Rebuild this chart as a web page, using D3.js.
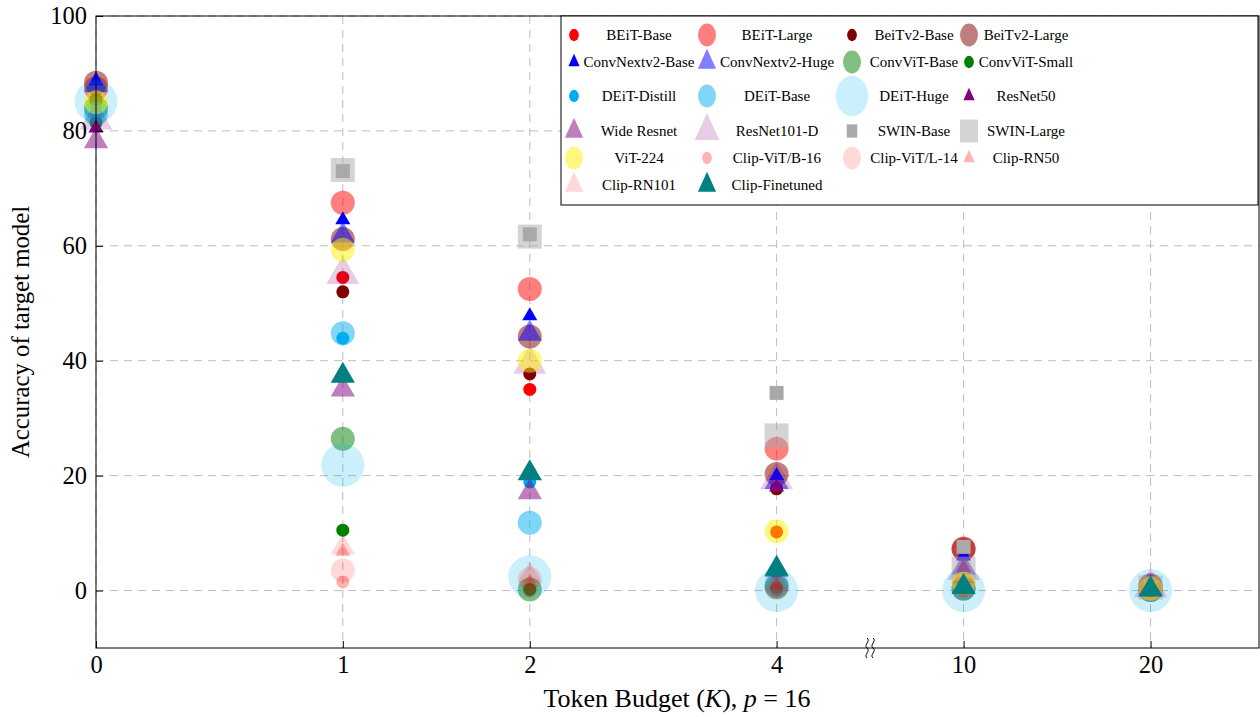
<!DOCTYPE html>
<html>
<head>
<meta charset="utf-8">
<script src="https://cdn.jsdelivr.net/npm/d3@7"></script>
<style>
  body { margin: 0; background: #fff; }
  text { font-family: "Liberation Serif", "Times New Roman", serif; fill: #000; }
</style>
</head>
<body>
<div id="container"></div>
<script>
// token budgets on the x axis and where each one sits along the (broken) axis
var budgets = [0, 1, 2, 4, 10, 20]
var budgetSlots = [0, 1.32, 2.32, 3.64, 4.64, 5.64]
var yTicks = [0, 20, 40, 60, 80, 100]

var modelNames = [
  'BEiT-Base', 'BEiT-Large', 'BeiTv2-Base', 'BeiTv2-Large',
  'ConvNextv2-Base', 'ConvNextv2-Huge', 'ConvViT-Base', 'ConvViT-Small',
  'DEiT-Distill', 'DEiT-Base', 'DEiT-Huge', 'ResNet50',
  'Wide Resnet', 'ResNet101-D', 'SWIN-Base', 'SWIN-Large',
  'ViT-224', 'Clip-ViT/B-16', 'Clip-ViT/L-14', 'Clip-RN50',
  'Clip-RN101', 'Clip-Finetuned'
]

// accuracy of target model at budgets 0, 1, 2, 4, 10, 20 (null = not plotted)
var accuracy = [
  [85.2, 54.5, 35.0, 10.2, 7.4, 0.5], // BEiT-Base
  [87.4, 67.5, 52.5, 24.7, 7.3, 0.6], // BEiT-Large
  [85.5, 52.0, 37.7, 17.7, 7.0, 0.8], // BeiTv2-Base
  [88.4, 61.2, 44.2, 20.3, 7.2, 0.9], // BeiTv2-Large
  [88.6, 64.5, 47.8, 20.0, 6.0, 0.6], // ConvNextv2-Base
  [88.0, 61.8, 44.7, 18.9, 4.0, 0.5], // ConvNextv2-Huge
  [84.0, 26.4, 0.2, 0.6, 0.3, 0.1], // ConvViT-Base
  [81.5, 10.5, 0.2, 0.5, 0.3, 0.1], // ConvViT-Small
  [83.4, 43.9, 18.9, 3.0, 0.8, 0.2], // DEiT-Distill
  [83.0, 44.8, 11.8, 1.0, 0.5, 0.1], // DEiT-Base
  [85.1, 21.8, 2.4, 0.0, 0.0, 0.0], // DEiT-Huge
  [80.5, 38.0, 20.6, 18.0, 4.0, 0.5], // ResNet50
  [78.2, 35.0, 17.1, 3.6, 2.5, 0.4], // Wide Resnet
  [81.9, 55.0, 39.4, 19.3, 3.5, 0.5], // ResNet101-D
  [null, 73.0, 62.0, 34.4, 7.6, 0.5], // SWIN-Base
  [null, 73.2, 61.6, 27.0, 3.8, 0.5], // SWIN-Large
  [85.0, 59.3, 40.0, 10.3, 1.2, 0.3], // ViT-224
  [null, 1.5, 0.0, 0.0, 0.0, 0.0], // Clip-ViT/B-16
  [null, 3.5, 2.0, 0.5, 0.3, 0.1], // Clip-ViT/L-14
  [null, 6.8, 1.5, 1.0, 0.5, 0.1], // Clip-RN50
  [null, 7.5, 2.6, 1.2, 0.6, 0.2], // Clip-RN101
  [null, 37.4, 20.4, 3.8, 0.6, 0.2] // Clip-Finetuned
]

/* marker styles, one per model */
var markerColor = [
  '#ff0000', '#ff0000', '#800000', '#800000',
  '#0000ff', '#0000ff', '#008000', '#008000',
  '#00aeef', '#00aeef', '#00aeef', '#800080',
  '#800080', '#800080', '#a9a9a9', '#a9a9a9',
  '#fff200', '#ff0000', '#ff0000', '#ff0000',
  '#ff0000', '#008080'
]
var markerOpacity = [
  1, 0.5, 1, 0.5,
  1, 0.5, 0.5, 1,
  1, 0.5, 0.2, 1,
  0.5, 0.2, 1, 0.5,
  0.5, 0.3, 0.15, 0.3,
  0.15, 1
]
var markerShape = [
  'c', 'c', 'c', 'c',
  't', 't', 'c', 'c',
  'c', 'c', 'c', 't',
  't', 't', 's', 's',
  'c', 'c', 'c', 't',
  't', 't'
]
// circle radius / triangle circumradius / half square side, in px
var markerSize = [
  6.5, 12, 6.5, 12,
  8.7, 14, 12, 6.5,
  6.5, 12, 21.5, 8.7,
  14, 19, 7, 12,
  12, 6.5, 12, 8.7,
  14, 14
]

var svgWidth = 1260
var svgHeight = 717
var plotLeft = 96, plotRight = 1259, plotTop = 16, plotBottom = 648

var svg = d3.select('#container').append('svg')
  .attr('width', svgWidth)
  .attr('height', svgHeight)

var x = d3.scaleLinear().domain([0, 6.22]).range([plotLeft, plotRight])
var y = d3.scaleLinear().domain([-10, 100]).range([plotBottom, plotTop])

function xOf (i) { return x(budgetSlots[i]) }

function symbolFor (k) {
  var r = markerSize[k]
  if (markerShape[k] === 't') return d3.symbol().type(d3.symbolTriangle).size(3 * Math.sqrt(3) / 4 * r * r)()
  if (markerShape[k] === 's') return d3.symbol().type(d3.symbolSquare).size(4 * r * r)()
  return d3.symbol().type(d3.symbolCircle).size(Math.PI * r * r)()
}

/* grid */
var grid = svg.append('g').attr('class', 'grid')
grid.selectAll('line.v')
  .data(budgetSlots)
  .enter().append('line')
  .attr('class', 'v')
  .attr('x1', function (d) { return x(d) })
  .attr('x2', function (d) { return x(d) })
  .attr('y1', plotTop).attr('y2', plotBottom)
  .attr('stroke', '#bdbdbd').attr('stroke-dasharray', '8,6')
grid.selectAll('line.h')
  .data(yTicks)
  .enter().append('line')
  .attr('class', 'h')
  .attr('x1', plotLeft).attr('x2', plotRight)
  .attr('y1', function (d) { return y(d) })
  .attr('y2', function (d) { return y(d) })
  .attr('stroke', '#bdbdbd').attr('stroke-dasharray', '8,6')

/* data markers */
var marks = svg.append('g').attr('class', 'marks')
modelNames.forEach(function (name, k) {
  var pts = accuracy[k].map(function (v, i) { return { i: i, v: v } })
    .filter(function (d) { return d.v !== null })
  marks.append('g')
    .selectAll('path')
    .data(pts)
    .enter().append('path')
    .attr('d', symbolFor(k))
    .attr('transform', function (d) { return 'translate(' + xOf(d.i) + ',' + y(d.v) + ')' })
    .style('fill', markerColor[k])
    .style('fill-opacity', markerOpacity[k])
})

/* axes */
var yAxis = d3.axisLeft(y).tickValues(yTicks).tickSize(-7).tickPadding(9)
var gy = svg.append('g').attr('transform', 'translate(' + plotLeft + ',0)').call(yAxis)
gy.select('.domain').remove()
gy.selectAll('text').style('font-size', '24.5px').style('font-family', '"Liberation Serif", serif')

var xAxis = d3.axisBottom(x).tickValues(budgetSlots).tickSize(-7).tickPadding(8)
  .tickFormat(function (d) { return budgets[budgetSlots.indexOf(d)] })
var gx = svg.append('g').attr('transform', 'translate(0,' + plotBottom + ')').call(xAxis)
gx.select('.domain').remove()
gx.selectAll('text').style('font-size', '24.5px').style('font-family', '"Liberation Serif", serif')

svg.append('rect')
  .attr('x', plotLeft).attr('y', plotTop)
  .attr('width', plotRight - plotLeft).attr('height', plotBottom - plotTop)
  .attr('fill', 'none').attr('stroke', '#000').attr('stroke-width', 1)

/* axis break mark between 4 and 10 */
var bx = (xOf(3) + xOf(4)) / 2
;[-3, 3].forEach(function (o) {
  var p = d3.path()
  var cx = bx + o
  p.moveTo(cx, plotBottom - 10)
  p.bezierCurveTo(cx + 4, plotBottom - 7, cx - 4, plotBottom - 3, cx, plotBottom)
  p.bezierCurveTo(cx + 4, plotBottom + 3, cx - 4, plotBottom + 7, cx, plotBottom + 10)
  svg.append('path').attr('d', p.toString()).attr('fill', 'none').attr('stroke', '#000').attr('stroke-width', 1)
})

/* axis labels */
var xl = svg.append('text')
  .attr('x', 677).attr('y', 707)
  .attr('text-anchor', 'middle')
  .style('font-size', '26px')
xl.append('tspan').text('Token Budget (')
xl.append('tspan').style('font-style', 'italic').text('K')
xl.append('tspan').text('), ')
xl.append('tspan').style('font-style', 'italic').text('p')
xl.append('tspan').text(' = 16')

svg.append('text')
  .attr('transform', 'translate(29,332) rotate(-90)')
  .attr('text-anchor', 'middle')
  .style('font-size', '24.8px')
  .text('Accuracy of target model')

/* legend */
var legendRows = [35, 62, 96, 131, 158, 185]
var legendMarkX = [574, 707, 852, 969]
var legendTextX = [639, 777, 914, 1026]

var legend = svg.append('g').attr('class', 'legend')
legend.append('rect')
  .attr('x', 561).attr('y', plotTop)
  .attr('width', 697).attr('height', 189)
  .attr('fill', '#fff').attr('stroke', '#000')

var items = legend.selectAll('g.item')
  .data(modelNames)
  .enter().append('g')
  .attr('class', 'item')

items.append('path')
  .attr('d', function (d, k) { return symbolFor(k) })
  .attr('transform', function (d, k) {
    return 'translate(' + legendMarkX[k % 4] + ',' + legendRows[Math.floor(k / 4)] + ') scale(0.75,0.95)'
  })
  .style('fill', function (d, k) { return markerColor[k] })
  .style('fill-opacity', function (d, k) { return markerOpacity[k] })

items.append('text')
  .attr('x', function (d, k) { return legendTextX[k % 4] })
  .attr('y', function (d, k) { return legendRows[Math.floor(k / 4)] })
  .attr('dy', '.35em')
  .attr('text-anchor', 'middle')
  .style('font-size', '15px')
  .text(function (d) { return d })
</script>
</body>
</html>
